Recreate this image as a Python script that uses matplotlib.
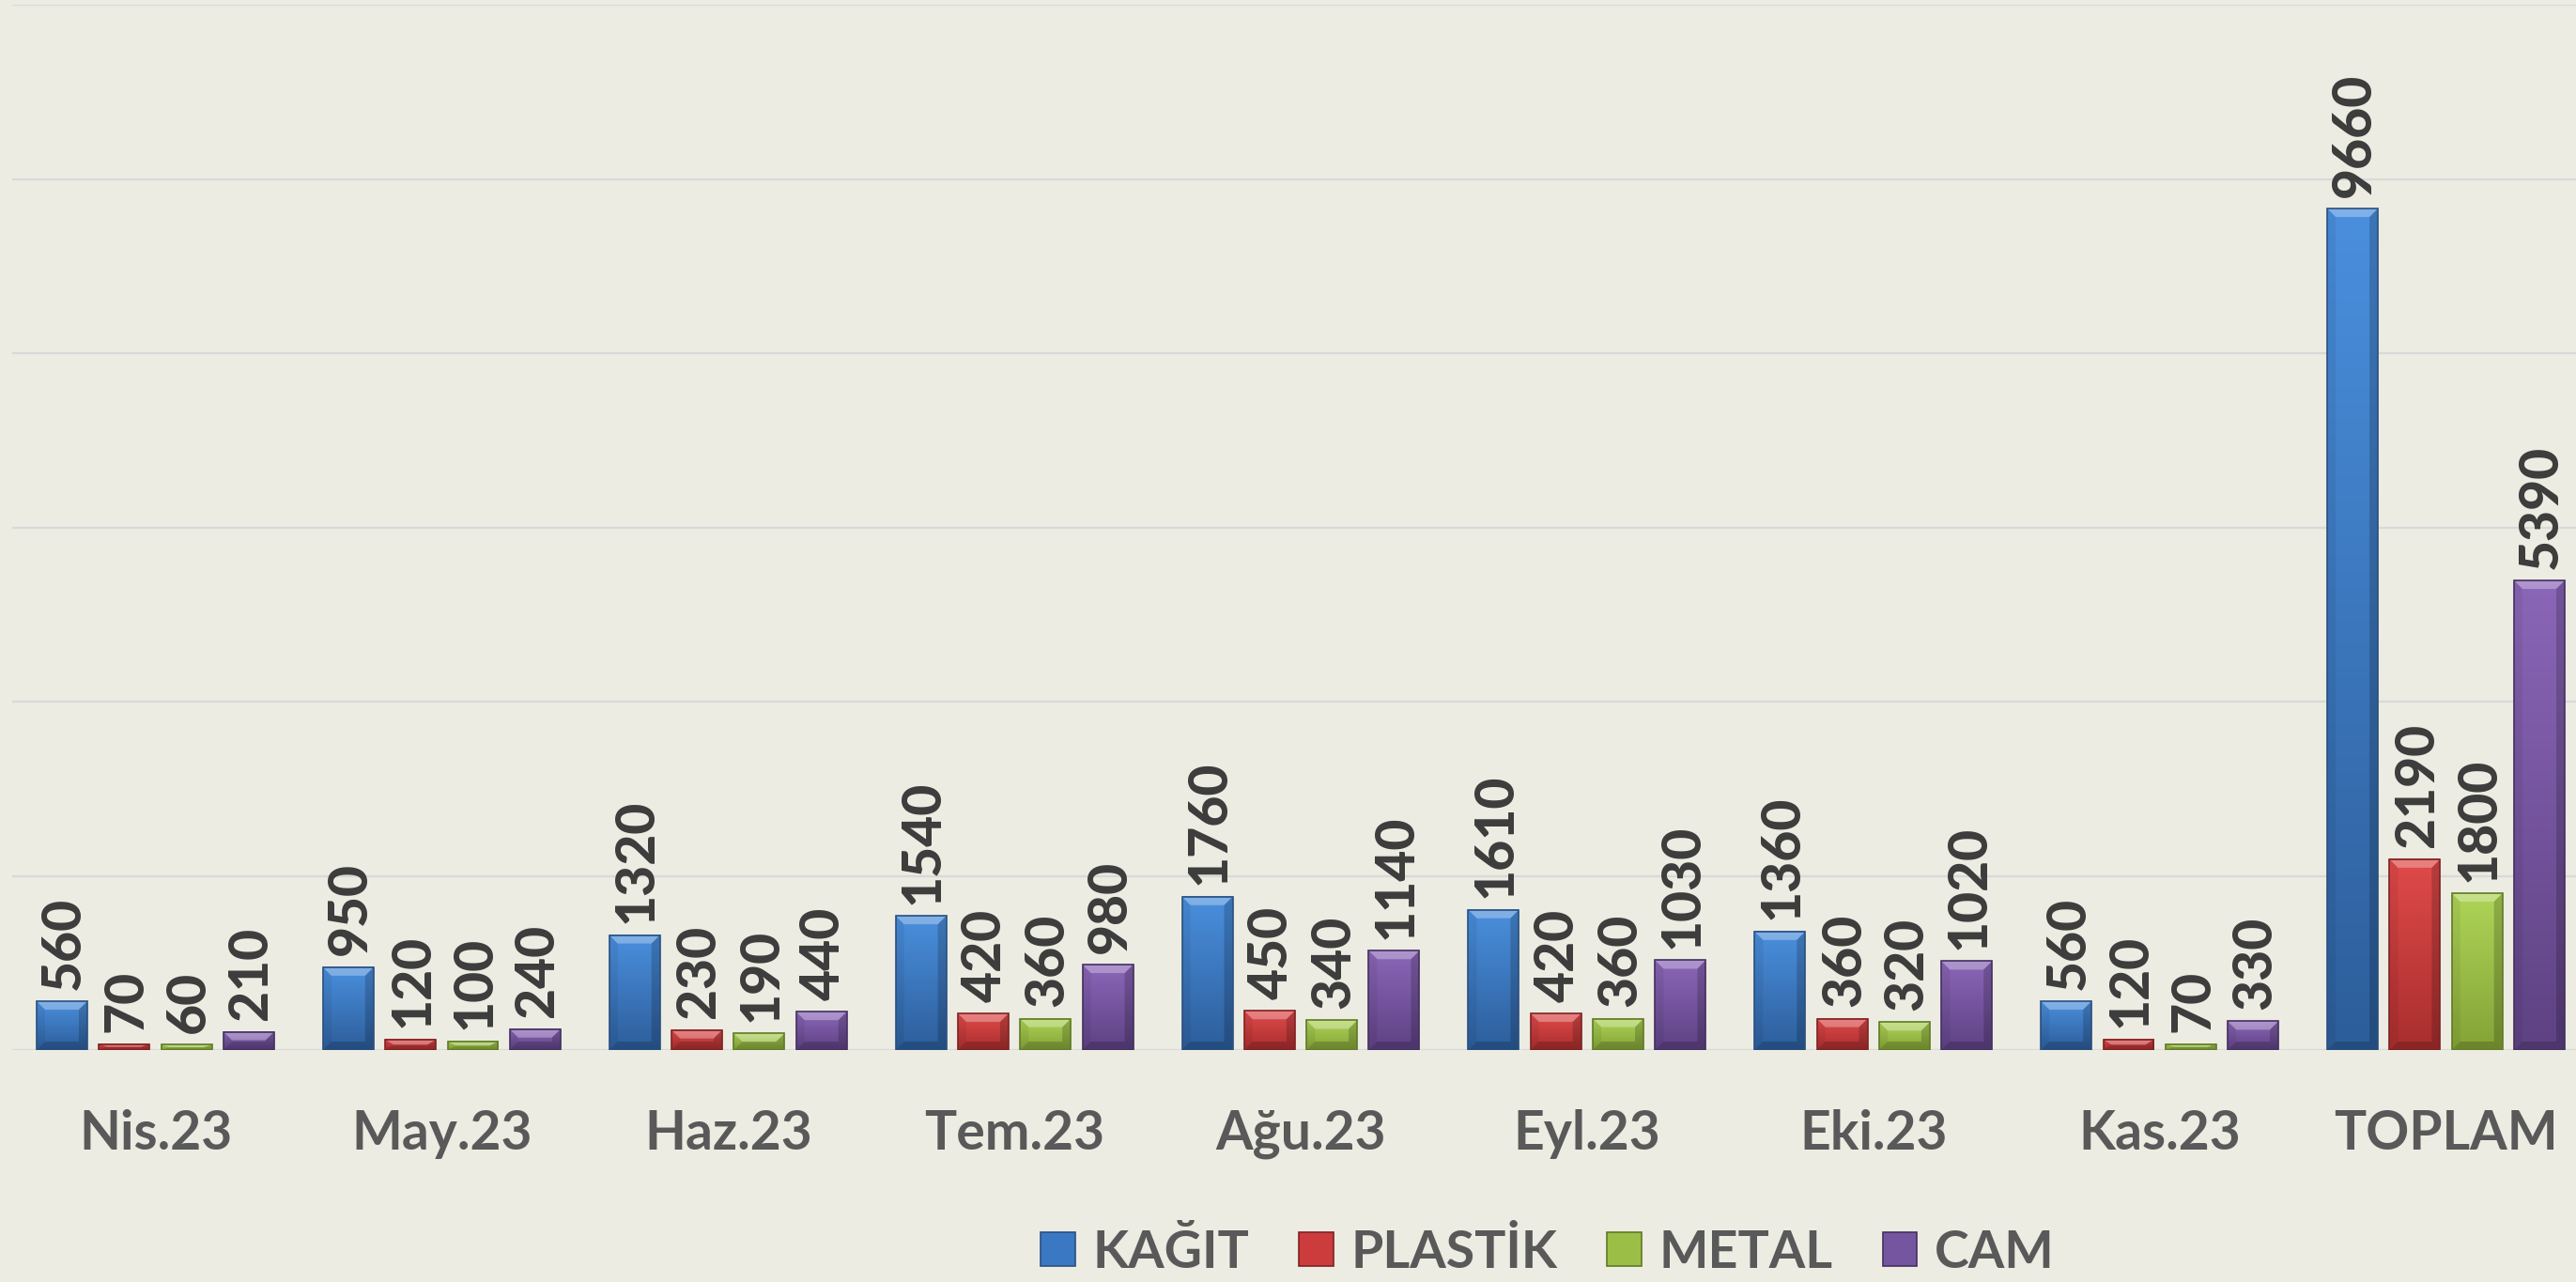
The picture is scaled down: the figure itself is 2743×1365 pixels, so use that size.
import numpy as np
import matplotlib
matplotlib.use("Agg")
import matplotlib.pyplot as plt
from matplotlib.colors import LinearSegmentedColormap
from matplotlib.patches import Polygon, Patch

# veriler
aylar = ["Nis.23", "May.23", "Haz.23", "Tem.23", "Ağu.23", "Eyl.23", "Eki.23", "Kas.23", "TOPLAM"]
seriler = ["KAĞIT", "PLASTİK", "METAL", "CAM"]
kagit = [560, 950, 1320, 1540, 1760, 1610, 1360, 560, 9660]
plastik = [70, 120, 230, 420, 450, 420, 360, 120, 2190]
metal = [60, 100, 190, 360, 340, 360, 320, 70, 1800]
cam = [210, 240, 440, 980, 1140, 1030, 1020, 330, 5390]
y_ticks = [0, 2000, 4000, 6000, 8000, 10000, 12000]

# renkler (açık üst, koyu alt, kenar, taban)
renkler = [
    ("#4A8FDD", "#2D5E9B", "#2A4F80", "#3B78C4"),
    ("#E04A4A", "#A92E2E", "#7E2222", "#CC3C3C"),
    ("#AED457", "#84A337", "#5F7A26", "#9BBE46"),
    ("#8B66B8", "#5E4283", "#433060", "#7655A0"),
]
bg = "#ECECE2"

W, H, DPI = 2743, 1365, 100
fig = plt.figure(figsize=(W / DPI, H / DPI), dpi=DPI, facecolor=bg)
ax = fig.add_axes([13 / W, 1 - 1118 / H, (2757 - 13) / W, 1113 / H])
ax.set_facecolor(bg)

x = np.arange(len(aylar))
pitch = 0.2175
width = 0.177
data = [kagit, plastik, metal, cam]

ax.set_xlim(-0.5, len(aylar) - 0.5)
ax.set_ylim(0, 12000)

# piksel -> veri dönüşümü (bevel için)
pos = ax.get_position()
dx = len(aylar) / (pos.width * W)
dy = 12000 / (pos.height * H)
bev = 9

grad = np.linspace(0, 1, 64).reshape(-1, 1)

for i, vals in enumerate(data):
    light, dark, edge, base = renkler[i]
    cmap = LinearSegmentedColormap.from_list("g%d" % i, [dark, light])
    bars = ax.bar(x + (i - 1.5) * pitch, vals, width, color=base, zorder=2)
    for rect, v in zip(bars, vals):
        x0, y0 = rect.get_x(), rect.get_y()
        w, h = rect.get_width(), rect.get_height()
        x1, y1 = x0 + w, y0 + h
        ax.imshow(grad, cmap=cmap, extent=(x0, x1, y0, y1), aspect="auto",
                  origin="lower", zorder=2.1, interpolation="bilinear")
        bx = bev * dx
        by = min(bev * dy, h / 2)
        top = Polygon([(x0, y1), (x1, y1), (x1 - bx, y1 - by), (x0 + bx, y1 - by)],
                      closed=True, facecolor="white", alpha=0.3, lw=0, zorder=2.2)
        bot = Polygon([(x0, y0), (x1, y0), (x1 - bx, y0 + by), (x0 + bx, y0 + by)],
                      closed=True, facecolor="black", alpha=0.18, lw=0, zorder=2.2)
        sol = Polygon([(x0, y0), (x0 + bx, y0 + by), (x0 + bx, y1 - by), (x0, y1)],
                      closed=True, facecolor="black", alpha=0.06, lw=0, zorder=2.2)
        sag = Polygon([(x1, y0), (x1 - bx, y0 + by), (x1 - bx, y1 - by), (x1, y1)],
                      closed=True, facecolor="black", alpha=0.18, lw=0, zorder=2.2)
        for p in (top, bot, sol, sag):
            ax.add_patch(p)
        ax.add_patch(plt.Rectangle((x0, y0), w, h, facecolor="none",
                                   edgecolor=edge, lw=1.2, zorder=2.3))
        ax.annotate(str(v), (x0 + w / 2, y1), xytext=(2, 9), textcoords="offset points",
                    rotation=90, ha="center", va="bottom", fontsize=41,
                    fontfamily="Lato", fontweight=900, color="#3C3C3C", zorder=3)

ax.set_xlim(-0.5, len(aylar) - 0.5)
ax.set_ylim(0, 12000)

ax.set_yticks(y_ticks)
ax.yaxis.grid(True, color="#D9D9D9", linewidth=1.6, zorder=0)
ax.set_axisbelow(True)
ax.tick_params(axis="y", left=False, labelleft=False)
ax.set_xticks(x)
ax.set_xticklabels(aylar, fontsize=41, fontfamily="Lato", fontweight="bold", color="#595959")
ax.tick_params(axis="x", bottom=False, pad=42)
for s in ax.spines.values():
    s.set_visible(False)

handles = [Patch(facecolor=r[3], edgecolor=r[2], lw=1.2) for r in renkler]
leg = fig.legend(handles, seriler, loc="center", bbox_to_anchor=(1648 / W, 1 - 1333 / H),
                 ncol=4, frameon=False, handlelength=0.66, handleheight=0.62,
                 handletextpad=0.34, columnspacing=0.95,
                 prop={"family": "Lato", "weight": "bold", "size": 40})
for t in leg.get_texts():
    t.set_color("#595959")

fig.savefig("out.png", dpi=DPI, facecolor=bg)
